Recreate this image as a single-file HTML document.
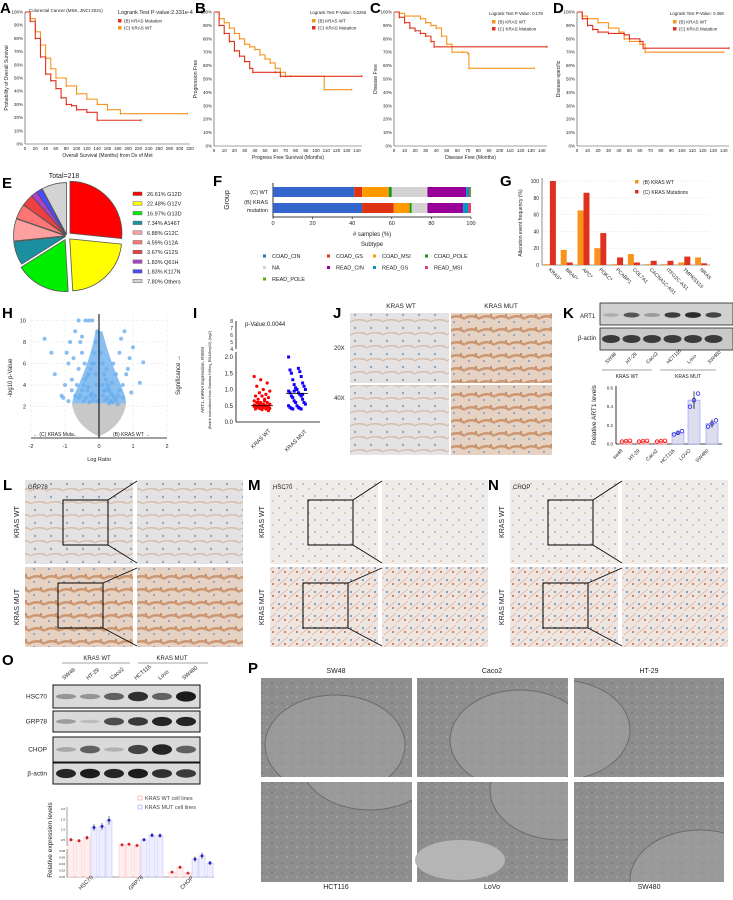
<!DOCTYPE html>
<html><head><meta charset="utf-8">
<style>
html,body{margin:0;padding:0;background:#fff;}
svg{display:block;font-family:"Liberation Sans",Arial,sans-serif;}
</style></head>
<body>
<svg id="fig" width="733" height="900" viewBox="0 0 733 900" xmlns="http://www.w3.org/2000/svg">
<defs>
<pattern id="ihcWT" width="16" height="13" patternUnits="userSpaceOnUse"><rect width="16" height="13" fill="#e4e2e2"/><circle cx="3" cy="3" r="1.2" fill="#8fa9c9"/><circle cx="11" cy="8" r="1" fill="#9bb2cf"/><path d="M0 9 Q8 6 16 10" stroke="#d8c0ae" stroke-width="1.5" fill="none"/></pattern>
<pattern id="ihcMUT" width="15" height="13" patternUnits="userSpaceOnUse"><rect width="15" height="13" fill="#e5d2c3"/><path d="M0 6 Q7 2 15 7" stroke="#cb9670" stroke-width="2.5" fill="none"/><circle cx="4" cy="10" r="1.1" fill="#8fa2c2"/><circle cx="11" cy="3" r="1" fill="#b97f5a"/></pattern>
<pattern id="ihcPale" width="12" height="12" patternUnits="userSpaceOnUse"><rect width="12" height="12" fill="#f0ece9"/><circle cx="3" cy="4" r="0.9" fill="#8aa6cc"/><circle cx="9" cy="9" r="0.8" fill="#c9a08a"/></pattern>
<pattern id="ihcMixed" width="12" height="12" patternUnits="userSpaceOnUse"><rect width="12" height="12" fill="#efe6e2"/><circle cx="3" cy="4" r="1.1" fill="#6a9cc8"/><circle cx="9" cy="8" r="1.1" fill="#c87a52"/><path d="M0 11 L12 1" stroke="#deb09a" stroke-width="0.8"/></pattern>
<pattern id="em" width="10" height="10" patternUnits="userSpaceOnUse"><rect width="10" height="10" fill="#8e8e8e"/><circle cx="2" cy="3" r="1" fill="#7c7c7c"/><circle cx="7" cy="7" r="1.2" fill="#a0a0a0"/></pattern>
<clipPath id="clipP0"><rect x="261" y="678" width="151" height="99"/></clipPath>
<clipPath id="clipP1"><rect x="417" y="678" width="151" height="99"/></clipPath>
<clipPath id="clipP2"><rect x="574" y="678" width="150" height="99"/></clipPath>
<clipPath id="clipP3"><rect x="261" y="782" width="151" height="100"/></clipPath>
<clipPath id="clipP4"><rect x="417" y="782" width="151" height="100"/></clipPath>
<clipPath id="clipP5"><rect x="574" y="782" width="150" height="100"/></clipPath>
</defs>
</svg>
<script>
// ---------------- DATA ----------------
const aMutT=[0,10,20,30,40,50,60,70,80,90,100,120,140,225];
const aMutS=[1,.93,.80,.66,.53,.48,.42,.35,.30,.29,.26,.24,.18,.18];
const aWtT=[0,10,20,30,40,50,60,80,100,120,140,160,185,315];
const aWtS=[1,.95,.85,.75,.65,.57,.50,.44,.38,.34,.30,.26,.23,.23];
const bWtT=[0,5,10,15,20,25,30,35,40,45,50,55,60,65,70,75,108,135];
const bWtS=[1,.95,.92,.88,.84,.80,.76,.74,.72,.68,.65,.62,.58,.55,.52,.52,.42,.42];
const bMutT=[0,5,10,15,20,25,30,35,38,60,65,145];
const bMutS=[1,.90,.84,.78,.71,.67,.63,.58,.55,.55,.52,.52];
const cWtT=[0,5,10,25,30,35,40,45,50,55,65,70,71,133];
const cWtS=[1,.99,.97,.95,.92,.90,.88,.82,.76,.70,.70,.69,.58,.58];
const cMutT=[0,5,10,15,20,25,30,35,38,145];
const cMutS=[1,.96,.92,.88,.86,.84,.82,.78,.74,.74];
const dWtT=[0,5,10,20,30,40,45,50,60,65,140];
const dWtS=[1,.97,.95,.92,.88,.85,.80,.78,.76,.70,.70];
const dMutT=[0,5,10,15,20,30,45,50,60,63,145];
const dMutS=[1,.95,.90,.87,.85,.84,.83,.80,.78,.73,.73];
const pieLabels=["G12D","G12V","G13D","A146T","G12C","G12A","G12S","Q61H","K117N","Others"];
const pieValues=[26.61,22.48,16.97,7.34,6.88,4.59,3.67,1.83,1.83,7.80];
const fCats=["COAD_CIN","COAD_GS","COAD_MSI","COAD_POLE","NA","READ_CIN","READ_GS","READ_MSI","READ_POLE"];
const fWt=[41,4,13.5,1.5,18,19.5,1.5,0.5,0.5];
const fMut=[45,16,8,1,8,18,2.5,1.5,0];
const gCats=["KRAS*","BRAF*","APC*","PI3KC*","PCABP1","COL7A1","CACNA1C-AS1","ITFG2C-AS1","TMPRSS15","NRAS"];
const gWt=[1,18,65,20,1,13,1,1,3,9];
const gMut=[100,3,86,38,9,3,5,5,10,2];
const volLX=[-0.05,-0.1,-0.15,-0.2,-0.25,-0.3,-0.35,-0.4,-0.45,-0.5,-0.55,-0.6,-0.7,-0.8,-0.9,-1.0,-1.1,-1.3,-1.4,-1.6,-0.08,-0.12,-0.18,-0.22,-0.28,-0.32,-0.38,-0.42,-0.5,-0.6,-0.65,-0.75,-0.85,-0.95,-1.05,-0.3,-0.4,-0.5,-0.2,-0.15,-0.9,-0.8,-0.7,-0.6,-0.55,-0.25,-0.35,-0.45,-0.1,-0.05];
const volLY=[9,8,7,6,5.5,5,4.8,4.5,4,3.5,3,2.8,3,3.5,2.5,4,3,5,7,8.3,4,3,2.6,3.2,2.4,3.8,2.8,6,7,5.5,4,6.5,8,7,2.8,10,10,8.5,10,6,6,4.5,9,10,8,3,3.5,2.5,5,2.5];
const volRX=[0.05,0.1,0.15,0.2,0.25,0.3,0.35,0.4,0.45,0.5,0.55,0.6,0.7,0.8,0.9,1.0,1.2,1.3,0.12,0.18,0.22,0.28,0.32,0.38,0.42,0.5,0.6,0.65,0.75,0.85,0.3,0.4,0.55,0.2,0.7,0.95,0.1,0.15,0.25,0.35];
const volRY=[7,6,5,4.5,4,3.5,3.2,3,2.8,2.6,3,3.5,4,5,6.5,7.5,4.2,6.1,3,2.6,5.5,3.8,2.5,4.2,6,5,7,8.3,9,5.5,2.3,2.4,2.2,3.5,2.8,3.3,4,3.5,2.8,2.5];
const iWt=[1.4,1.3,1.2,1.1,1.0,0.95,0.9,0.85,0.8,0.8,0.75,0.7,0.7,0.65,0.6,0.6,0.6,0.55,0.55,0.55,0.5,0.5,0.5,0.5,0.5,0.5,0.48,0.48,0.45,0.45,0.45,0.42,0.42,0.4,0.4,0.38,0.35,0.6,0.65,0.52];
const iMut=[2.0,1.65,1.6,1.55,1.5,1.4,1.3,1.2,1.15,1.1,1.05,1.0,1.0,0.95,0.9,0.9,0.85,0.8,0.8,0.75,0.7,0.65,0.6,0.6,0.55,0.5,0.5,0.45,0.45,0.42,0.42,0.4,0.4,0.85,0.95];
const kLines=["sw48","HT-29","Caco2","HCT116","LOVO","SW480"];
const kMeans=[0.03,0.03,0.03,0.12,0.47,0.22];
const oGroups=["HSC70","GRP78","CHOP"];
const oWt=[[0.5,0.45,0.6],[0.25,0.28,0.22],[0.015,0.03,0.012]];
const oMut=[[1.1,1.15,1.45],[0.5,0.72,0.7],[0.055,0.065,0.043]];

// ---------------- HELPERS ----------------
const NS="http://www.w3.org/2000/svg";
const svg=document.getElementById('fig');
function mk(tag,attrs,name,parent,inter){
  const el=document.createElementNS(NS,tag);
  for(const k in attrs) el.setAttribute(k,attrs[k]);
  
  
  (parent||svg).appendChild(el);
  return el;
}
function txt(x,y,s,size,name,opt){
  opt=opt||{};
  const a={x:x,y:y,'font-size':size,fill:opt.fill||'#222'};
  if(opt.anchor) a['text-anchor']=opt.anchor;
  if(opt.weight) a['font-weight']=opt.weight;
  if(opt.rot!==undefined) a.transform='rotate('+opt.rot+' '+x+' '+y+')';
  const t=mk('text',a,name);
  t.textContent=s;return t;
}
function panelLetter(x,y,l){txt(x,y,l,15,'panel-label-'+l.toLowerCase(),{weight:'bold',fill:'#000'});}

// ---------------- SURVIVAL ----------------
function survival(id,x0,x1,xmax,y0,y1,series,ylab,xlab,legend,pval,xticks){
  const X=t=>x0+(x1-x0)*t/xmax, Y=s=>y1-(y1-y0)*s;
  mk('line',{x1:x0,y1:y0,x2:x0,y2:y1,stroke:'#444','stroke-width':0.6},id+'-y-axis');
  mk('line',{x1:x0,y1:y1,x2:x1,y2:y1,stroke:'#444','stroke-width':0.6},id+'-x-axis');
  for(let p=0;p<=100;p+=10){txt(x0-2,Y(p/100)+1.5,p+'%',4.5,id+'-y-tick',{anchor:'end'});}
  for(let v=0;v<=xmax;v+=xticks){txt(X(v),y1+6,String(v),4.5,id+'-x-tick',{anchor:'middle'});}
  series.forEach(se=>{
    let d='M'+X(se.t[0])+' '+Y(se.s[0]);
    for(let i=1;i<se.t.length;i++) d+=' H'+X(se.t[i])+' V'+Y(se.s[i]);
    mk('path',{d:d,fill:'none',stroke:se.c,'stroke-width':1.1},id+'-curve-'+se.n);
    for(let i=1;i<se.t.length;i++){mk('line',{x1:X(se.t[i]),y1:Y(se.s[i])-1.2,x2:X(se.t[i]),y2:Y(se.s[i])+1.2,stroke:se.c,'stroke-width':0.8},id+'-censor-mark');}
  });
  txt(x0-17,(y0+y1)/2,ylab,5,id+'-y-axis-title',{anchor:'middle',rot:-90});
  txt((x0+x1)/2,y1+13,xlab,5,id+'-x-axis-title',{anchor:'middle'});
  txt(pval.x,pval.y,pval.s,pval.size,id+'-logrank-pvalue');
  legend.forEach((l,i)=>{
    mk('rect',{x:pval.lx,y:pval.y+5+i*7,width:3.5,height:3.5,fill:l.c},id+'-legend-swatch');
    txt(pval.lx+6,pval.y+8.5+i*7,l.s,4.5,id+'-legend-entry');
  });
}
const OR='#f7941d', RD='#e0301e';
panelLetter(0,13,'A');
txt(29,12,'Colorectal Cancer (MSK, JNCI 2021)',4.5,'a-dataset-title');
survival('a',25,190,320,12,144,[{t:aWtT,s:aWtS,c:OR,n:'wt'},{t:aMutT,s:aMutS,c:RD,n:'mut'}],'Probability of Overall Survival','Overall Survival (Months) from Dx of Met',[{s:'(B) KRAS Mutation',c:RD},{s:'(C) KRAS WT',c:OR}],{x:118,y:14,s:'Logrank Test P-value:2.331e-4',size:5.5,lx:118},20);
panelLetter(195,13,'B');
survival('b',214,362,145,12,146,[{t:bWtT,s:bWtS,c:OR,n:'wt'},{t:bMutT,s:bMutS,c:RD,n:'mut'}],'Progression Free','Progress Free Survival (Months)',[{s:'(B) KRAS WT',c:OR},{s:'(C) KRAS Mutation',c:RD}],{x:310,y:14,s:'Logrank Test P-Value: 0.0255',size:4.3,lx:312},10);
panelLetter(370,13,'C');
survival('c',394,547,145,12,146,[{t:cWtT,s:cWtS,c:OR,n:'wt'},{t:cMutT,s:cMutS,c:RD,n:'mut'}],'Disease Free','Disease Free (Months)',[{s:'(B) KRAS WT',c:OR},{s:'(C) KRAS Mutation',c:RD}],{x:489,y:15,s:'Logrank Test P-Value: 0.178',size:4.3,lx:492},10);
panelLetter(553,13,'D');
survival('d',577,729,145,12,146,[{t:dWtT,s:dWtS,c:OR,n:'wt'},{t:dMutT,s:dMutS,c:RD,n:'mut'}],'Disease-specific','',[{s:'(B) KRAS WT',c:OR},{s:'(C) KRAS Mutation',c:RD}],{x:670,y:15,s:'Logrank Test P-Value: 0.368',size:4.3,lx:673},10);

// ---------------- E PIE ----------------
panelLetter(2,188,'E');
txt(64,178,'Total=218',7,'e-total-label',{anchor:'middle'});
const pieCols=['#ff0000','#ffff00','#00ee00','#1a8fa0','#ffa0a0','#ff7575','#ee4040','#b040d0','#4a4aff','#d3d3d3'];
(function(){
  const cx=67,cy=236,r=52;const tot=pieValues.reduce((a,b)=>a+b,0);let a0=-Math.PI/2;
  pieValues.forEach((v,i)=>{
    const a1=a0+2*Math.PI*v/tot, am=(a0+a1)/2, off=(i<3?4:1.5);
    const ox=cx+off*Math.cos(am), oy=cy+off*Math.sin(am);
    const large=(a1-a0)>Math.PI?1:0;
    const d='M'+ox+' '+oy+' L'+(ox+r*Math.cos(a0))+' '+(oy+r*Math.sin(a0))+' A'+r+' '+r+' 0 '+large+' 1 '+(ox+r*Math.cos(a1))+' '+(oy+r*Math.sin(a1))+' Z';
    mk('path',{d:d,fill:pieCols[i],stroke:'#555','stroke-width':0.8},'pie-slice-'+pieLabels[i].toLowerCase());
    a0=a1;
  });
  pieValues.forEach((v,i)=>{
    const y=196+i*9.7;
    mk('rect',{x:133,y:y-4,width:9,height:3.5,fill:pieCols[i],stroke:'#666','stroke-width':0.5},'pie-legend-swatch');
    txt(147,y,v.toFixed(2)+'%  '+pieLabels[i],5.5,'pie-legend-entry');
  });
})();

// ---------------- F STACKED BARS ----------------
panelLetter(213,186,'F');
const fCols=['#3366cc','#dd3311','#ff9900','#109618','#d3d3d3','#990099','#0099c6','#dd4477','#66aa00'];
(function(){
  const X=v=>273+198*v/100;
  mk('line',{x1:273,y1:183,x2:273,y2:217,stroke:'#000','stroke-width':0.8},'f-y-axis');
  mk('line',{x1:273,y1:217,x2:471,y2:217,stroke:'#000','stroke-width':0.8},'f-x-axis');
  [0,20,40,60,80,100].forEach(v=>{mk('line',{x1:X(v),y1:217,x2:X(v),y2:219,stroke:'#000','stroke-width':0.6},'f-x-tick');txt(X(v),225,String(v),5.5,'f-x-tick-label',{anchor:'middle'});});
  [[fWt,187,'wt'],[fMut,203,'mut']].forEach(([arr,y,n])=>{let acc=0;arr.forEach((v,i)=>{if(v>0)mk('rect',{x:X(acc),y:y,width:198*v/100,height:10,fill:fCols[i]},'f-bar-'+n+'-'+fCats[i].toLowerCase());acc+=v;});});
  txt(268,194,'(C) WT',5.5,'f-category-wt',{anchor:'end'});
  txt(268,204,'(B) KRAS',5.5,'f-category-mut',{anchor:'end'});
  txt(268,212,'mutation',5.5,'f-category-mut-2',{anchor:'end'});
  txt(229,200,'Group',7,'f-y-axis-title',{anchor:'middle',rot:-90});
  txt(372,236,'# samples (%)',6,'f-x-axis-title',{anchor:'middle'});
  txt(372,246,'Subtype',6,'f-legend-title',{anchor:'middle'});
  const cols=[263,327,373,425];
  fCats.forEach((c,i)=>{const col=i%4,row=Math.floor(i/4);const x=cols[col],y=258+row*11.5;
    mk('rect',{x:x,y:y-3.5,width:3,height:3,fill:fCols[i]},'f-legend-swatch');
    txt(x+9,y,c,5.5,'f-legend-entry');});
})();

// ---------------- G GROUPED BARS ----------------
panelLetter(500,186,'G');
(function(){
  const x0=542,x1=710,y0=265,y100=181;const Y=v=>y0-(y0-y100)*v/100;const bw=(x1-x0)/gCats.length;
  [0,20,40,60,80,100].forEach(v=>{mk('line',{x1:x0,y1:Y(v),x2:x1,y2:Y(v),stroke:'#e6e6e6','stroke-width':0.5,'stroke-dasharray':'2 1'},'g-gridline');txt(x0-3,Y(v)+2,String(v),5,'g-y-tick-label',{anchor:'end'});});
  mk('line',{x1:x0,y1:y100-3,x2:x0,y2:y0,stroke:'#444','stroke-width':0.6},'g-y-axis');
  mk('line',{x1:x0,y1:y0,x2:x1,y2:y0,stroke:'#444','stroke-width':0.6},'g-x-axis');
  gCats.forEach((c,i)=>{const cx=x0+bw*(i+0.5);
    mk('rect',{x:cx-6.5,y:Y(gWt[i]),width:6,height:y0-Y(gWt[i]),fill:OR},'g-bar-wt-'+c.toLowerCase());
    mk('rect',{x:cx-0.5,y:Y(gMut[i]),width:6,height:y0-Y(gMut[i]),fill:RD},'g-bar-mut-'+c.toLowerCase());
    txt(cx-2,y0+5,c,5,'g-x-tick-label',{rot:45});
  });
  txt(522,223,'Alteration event frequency (%)',5,'g-y-axis-title',{anchor:'middle',rot:-90});
  mk('rect',{x:635,y:180,width:3.5,height:3.5,fill:OR},'g-legend-swatch-wt');txt(643,184,'(B) KRAS WT',5,'g-legend-entry-wt');
  mk('rect',{x:635,y:190,width:3.5,height:3.5,fill:RD},'g-legend-swatch-mut');txt(643,194,'(C) KRAS Mutations',5,'g-legend-entry-mut');
})();

// ---------------- H VOLCANO ----------------
panelLetter(2,318,'H');
(function(){
  const X=v=>99+34*v, Y=v=>428-10.75*v;
  [-2,-1,0,1,2].forEach(v=>{mk('line',{x1:X(v),y1:314,x2:X(v),y2:438,stroke:'#e3e3e3','stroke-width':0.5,'stroke-dasharray':'3 2'},'h-v-gridline');txt(X(v),448,String(v),5.5,'h-x-tick-label',{anchor:'middle'});});
  [2,4,6,8,10].forEach(v=>{mk('line',{x1:31,y1:Y(v),x2:167,y2:Y(v),stroke:'#e3e3e3','stroke-width':0.5,'stroke-dasharray':'3 2'},'h-h-gridline');txt(26,Y(v)+2,String(v),5.5,'h-y-tick-label',{anchor:'end'});});
  mk('path',{d:'M'+X(-0.1)+' '+Y(9)+' C'+X(-0.4)+' '+Y(4)+' '+X(-1.0)+' '+Y(2.6)+' '+X(-0.7)+' '+Y(1.8)+' L'+X(0.7)+' '+Y(1.8)+' C'+X(1.0)+' '+Y(2.6)+' '+X(0.5)+' '+Y(4)+' '+X(0.1)+' '+Y(9)+' Z',fill:'#74b4ee',opacity:0.85},'h-significant-density');
  mk('path',{d:'M'+X(-0.8)+' '+Y(2.3)+' Q'+X(-0.7)+' '+Y(0.2)+' '+X(0)+' '+Y(-0.8)+' Q'+X(0.7)+' '+Y(0.2)+' '+X(0.8)+' '+Y(2.3)+' Z',fill:'#c8c8c8'},'h-nonsignificant-points');
  volLX.forEach((v,i)=>{mk('circle',{cx:X(v),cy:Y(volLY[i]),r:2,fill:'#6aaeee',opacity:0.8},'h-point-left');});
  volRX.forEach((v,i)=>{mk('circle',{cx:X(v),cy:Y(volRY[i]),r:2,fill:'#6aaeee',opacity:0.8},'h-point-right');});
  mk('line',{x1:X(0),y1:314,x2:X(0),y2:438,stroke:'#000','stroke-width':1},'h-zero-line');
  mk('line',{x1:31,y1:438,x2:167,y2:438,stroke:'#000','stroke-width':0.8},'h-x-axis');
  txt(33,436,'\u2190 (C) KRAS Muta..',5,'h-left-group-label');
  txt(113,436,'(B) KRAS WT \u2192',5,'h-right-group-label');
  txt(99,461,'Log Ratio',5.5,'h-x-axis-title',{anchor:'middle'});
  txt(12,378,'-log10 p-Value',6,'h-y-axis-title',{anchor:'middle',rot:-90});
  txt(180,375,'Significance \u2192',6,'h-significance-label',{anchor:'middle',rot:-90});
})();

// ---------------- I SCATTER ----------------
panelLetter(193,318,'I');
(function(){
  const Y=v=>v<=2?422-32.5*v:349-(v-4)*7;
  mk('line',{x1:236,y1:352,x2:236,y2:422,stroke:'#000','stroke-width':0.8},'i-y-axis-lower');
  mk('line',{x1:236,y1:321,x2:236,y2:349,stroke:'#000','stroke-width':0.8},'i-y-axis-upper');
  mk('line',{x1:236,y1:422,x2:320,y2:422,stroke:'#000','stroke-width':0.8},'i-x-axis');
  [0,0.5,1.0,1.5,2.0].forEach(v=>txt(233,Y(v)+2,v.toFixed(1),6,'i-y-tick-label',{anchor:'end'}));
  [4,5,6,7,8].forEach(v=>txt(233,Y(v)+2,String(v),5,'i-y-tick-label-upper',{anchor:'end'}));
  txt(245,326,'p-Value:0.0044',6,'i-pvalue');
  iWt.forEach((v,i)=>{mk('circle',{cx:262+((i*5)%13-6)*1.3,cy:Y(v),r:1.6,fill:'#f00'},'i-point-wt');});
  iMut.forEach((v,i)=>{mk('rect',{x:297+((i*7)%13-6)*1.4-1.5,y:Y(v)-1.5,width:3,height:3,fill:'#10f'},'i-point-mut');});
  mk('line',{x1:251,y1:Y(0.5),x2:273,y2:Y(0.5),stroke:'#000','stroke-width':0.8},'i-median-wt');
  mk('line',{x1:286,y1:Y(0.88),x2:308,y2:Y(0.88),stroke:'#000','stroke-width':0.8},'i-median-mut');
  txt(262,440,'KRAS WT',5.5,'i-x-label-wt',{anchor:'middle',rot:-45});
  txt(297,442,'KRAS MUT',5.5,'i-x-label-mut',{anchor:'middle',rot:-45});
  txt(204,380,'ART1, mRNA Expression, RSEM',4.5,'i-y-axis-title',{anchor:'middle',rot:-90});
  txt(211,380,'(Batch normalized from Illumina HiSeq_RNASeqV2) (log2)',3.8,'i-y-axis-subtitle',{anchor:'middle',rot:-90});
})();

// ---------------- J HISTOLOGY ----------------
panelLetter(333,318,'J');
txt(401,308,'KRAS WT',6.5,'j-col-label-wt',{anchor:'middle'});
txt(501,308,'KRAS MUT',6.5,'j-col-label-mut',{anchor:'middle'});
txt(334,350,'20X',6,'j-row-label-20x');txt(334,400,'40X',6,'j-row-label-40x');
mk('rect',{x:350,y:313,width:99,height:70,fill:'url(#ihcWT)'},'j-image-wt-20x');
mk('rect',{x:451,y:313,width:101,height:70,fill:'url(#ihcMUT)'},'j-image-mut-20x');
mk('rect',{x:350,y:385,width:99,height:70,fill:'url(#ihcWT)'},'j-image-wt-40x');
mk('rect',{x:451,y:385,width:101,height:70,fill:'url(#ihcMUT)'},'j-image-mut-40x');

// ---------------- K BLOT + BARS ----------------
panelLetter(563,318,'K');
txt(580,318,'ART1',6,'k-blot-label-art1');
txt(578,340,'\u03b2-actin',6,'k-blot-label-actin');
mk('rect',{x:600,y:303,width:133,height:22,fill:'#d0d0d0',stroke:'#222','stroke-width':0.8},'k-blot-art1');
mk('rect',{x:600,y:328,width:133,height:22,fill:'#c9c9c9',stroke:'#222','stroke-width':0.8},'k-blot-actin');
const kArtI=[0.2,0.7,0.3,0.85,0.95,0.8];
kLines.forEach((l,i)=>{const cx=611+i*20.5;
  mk('ellipse',{cx:cx,cy:315,rx:8,ry:1.5+1.5*kArtI[i],fill:'#222',opacity:kArtI[i]},'k-band-art1');
  mk('ellipse',{cx:cx,cy:339,rx:9,ry:4,fill:'#222',opacity:0.85},'k-band-actin');
  txt(cx-4,364,['SW48','HT-29','Caco2','HCT116','Lovo','SW480'][i],5,'k-lane-label',{rot:-45});
});
mk('line',{x1:602,y1:370,x2:652,y2:370,stroke:'#888','stroke-width':0.8},'k-group-line-wt');
mk('line',{x1:660,y1:370,x2:716,y2:370,stroke:'#888','stroke-width':0.8},'k-group-line-mut');
txt(627,378,'KRAS WT',5,'k-group-label-wt',{anchor:'middle'});txt(688,378,'KRAS MUT',5,'k-group-label-mut',{anchor:'middle'});
(function(){
  const Y=v=>444-56*v/0.6; const xs=[626,643,661,678,694,712];
  mk('line',{x1:616,y1:386,x2:616,y2:444,stroke:'#000','stroke-width':0.8},'k-y-axis');
  mk('line',{x1:616,y1:444,x2:722,y2:444,stroke:'#000','stroke-width':0.8},'k-x-axis');
  [0,0.2,0.4,0.6].forEach(v=>txt(613,Y(v)+1.5,v.toFixed(1),4.5,'k-y-tick-label',{anchor:'end'}));
  kMeans.forEach((v,i)=>{const c=i<3?'#f00':'#22f';
    mk('rect',{x:xs[i]-6,y:Y(v),width:12,height:444-Y(v),fill:i<3?'#fdd':'#dde',stroke:i<3?'#f99':'#99f','stroke-width':0.6},'k-bar-'+kLines[i].toLowerCase());
    [-4,0,4].forEach((d,j)=>mk('circle',{cx:xs[i]+d,cy:Y(v*(0.85+0.15*j)),r:1.8,fill:'none',stroke:c,'stroke-width':0.8},'k-point'));
    mk('line',{x1:xs[i],y1:Y(v*1.2),x2:xs[i],y2:Y(v*0.8),stroke:'#000','stroke-width':0.7},'k-error-bar');
    txt(xs[i]-3,451,kLines[i],5,'k-x-tick-label',{rot:-45,anchor:'end'});
  });
  txt(596,415,'Relative ART1 levels',6.5,'k-y-axis-title',{anchor:'middle',rot:-90});
})();

// ---------------- L M N ----------------
function ihcPanel(letter,x,label,wtFill,mutFill){
  panelLetter(x-22,490,letter);
  const L=letter.toLowerCase();
  mk('rect',{x:x,y:480,width:108,height:84,fill:wtFill},L+'-image-wt-overview');
  mk('rect',{x:x+112,y:480,width:106,height:84,fill:wtFill},L+'-image-wt-zoom');
  mk('rect',{x:x,y:567,width:108,height:80,fill:mutFill},L+'-image-mut-overview');
  mk('rect',{x:x+112,y:567,width:106,height:80,fill:mutFill},L+'-image-mut-zoom');
  mk('rect',{x:x+38,y:500,width:45,height:45,fill:'none',stroke:'#000','stroke-width':1},L+'-inset-box-wt');
  mk('rect',{x:x+33,y:583,width:45,height:45,fill:'none',stroke:'#000','stroke-width':1},L+'-inset-box-mut');
  mk('line',{x1:x+83,y1:500,x2:x+112,y2:481,stroke:'#000','stroke-width':0.8},L+'-zoom-line');
  mk('line',{x1:x+83,y1:545,x2:x+112,y2:563,stroke:'#000','stroke-width':0.8},L+'-zoom-line');
  mk('line',{x1:x+78,y1:583,x2:x+112,y2:568,stroke:'#000','stroke-width':0.8},L+'-zoom-line');
  mk('line',{x1:x+78,y1:628,x2:x+112,y2:646,stroke:'#000','stroke-width':0.8},L+'-zoom-line');
  txt(x+3,489,label,6,L+'-stain-label');
  txt(x-6,522,'KRAS WT',7,L+'-row-label-wt',{anchor:'middle',rot:-90});
  txt(x-6,607,'KRAS MUT',7,L+'-row-label-mut',{anchor:'middle',rot:-90});
}
ihcPanel('L',25,'GRP78','url(#ihcWT)','url(#ihcMUT)');
ihcPanel('M',270,'HSC70','url(#ihcPale)','url(#ihcMixed)');
ihcPanel('N',510,'CHOP','url(#ihcPale)','url(#ihcMixed)');

// ---------------- O BLOTS + BAR ----------------
panelLetter(2,665,'O');
mk('line',{x1:62,y1:663,x2:130,y2:663,stroke:'#888','stroke-width':0.8},'o-group-line-wt');
mk('line',{x1:138,y1:663,x2:208,y2:663,stroke:'#888','stroke-width':0.8},'o-group-line-mut');
txt(97,660,'KRAS WT',6,'o-group-label-wt',{anchor:'middle'});txt(172,660,'KRAS MUT',6,'o-group-label-mut',{anchor:'middle'});
const oLanes=['SW48','HT-29','Caco2','HCT116','Lovo','SW480'];
const oBlots=[['HSC70',685,23,[0.35,0.35,0.6,0.85,0.6,0.95]],['GRP78',711,21,[0.3,0.15,0.7,0.8,0.9,0.9]],['CHOP',737,25,[0.25,0.6,0.2,0.75,0.9,0.6]],['\u03b2-actin',763,21,[0.9,0.95,0.9,0.95,0.85,0.8]]];
oBlots.forEach(([n,y,h,ints])=>{
  mk('rect',{x:53,y:y,width:147,height:h,fill:'#dadada',stroke:'#111','stroke-width':1},'o-blot-'+n.replace('\u03b2','beta'));
  txt(47,y+h/2+2,n,6.5,'o-blot-label',{anchor:'end'});
  ints.forEach((v,i)=>mk('ellipse',{cx:66+i*24,cy:y+h/2,rx:10,ry:1.2+h*0.18*v,fill:'#111',opacity:v},'o-band'));
});
oLanes.forEach((l,i)=>txt(64+i*24,680,l,5.5,'o-lane-label',{rot:-40}));
(function(){
  const Yu=v=>850-(850-809)*v/2.0, Yl=v=>877-26*v/0.08;
  const xs=[[71,79,87,94,102,109],[122,129,137,144,152,160],[172,180,188,195,202,210]];
  mk('line',{x1:67,y1:807,x2:67,y2:846,stroke:'#444','stroke-width':0.5},'o-y-axis-upper');
  mk('line',{x1:67,y1:849,x2:67,y2:877,stroke:'#444','stroke-width':0.5},'o-y-axis-lower');
  mk('line',{x1:67,y1:877,x2:214,y2:877,stroke:'#444','stroke-width':0.5},'o-x-axis');
  [0.5,1.0,1.5,2.0].forEach(v=>txt(65,Yu(v)+1,v.toFixed(1),3,'o-y-tick-upper',{anchor:'end'}));
  [0,0.02,0.04,0.06,0.08].forEach(v=>txt(65,Yl(v)+1,v.toFixed(2),3,'o-y-tick-lower',{anchor:'end'}));
  oGroups.forEach((g,gi)=>{
    const Y=gi<2?Yu:Yl;
    [oWt[gi],oMut[gi]].forEach((arr,si)=>arr.forEach((v,k)=>{
      const x=xs[gi][si*3+k];const c=si?'#33f':'#f33';
      mk('rect',{x:x-3,y:Y(v),width:6,height:877-Y(v),fill:si?'#eef':'#fee',stroke:si?'#bbf':'#fbb','stroke-width':0.5},'o-bar-'+g.toLowerCase());
      mk('circle',{cx:x,cy:Y(v),r:1.5,fill:c},'o-point');
      mk('line',{x1:x,y1:Y(v*1.15),x2:x,y2:Y(v*0.85),stroke:'#000','stroke-width':0.5},'o-error-bar');
    }));
    txt(xs[gi][2],884,g,5.5,'o-x-tick-label',{rot:-45,anchor:'middle'});
  });
  mk('rect',{x:138,y:796,width:4,height:4,fill:'none',stroke:'#f99','stroke-width':0.6},'o-legend-swatch-wt');
  txt(145,800,'KRAS WT cell lines',5.5,'o-legend-entry-wt',{fill:'#444'});
  mk('rect',{x:138,y:805,width:4,height:4,fill:'none',stroke:'#99f','stroke-width':0.6},'o-legend-swatch-mut');
  txt(145,809,'KRAS MUT cell lines',5.5,'o-legend-entry-mut',{fill:'#444'});
  txt(52,840,'Relative expression levels',6.5,'o-y-axis-title',{anchor:'middle',rot:-90});
})();

// ---------------- P EM ----------------
panelLetter(248,673,'P');
const pNames=[['SW48','Caco2','HT-29'],['HCT116','LoVo','SW480']];
const pX=[261,417,574];
const pNuc=[[[335,745],[520,740],[560,730]],[[370,760],[560,790],[700,880]]];
pNames.forEach((row,r)=>row.forEach((n,c)=>{
  const y=r?782:678;
  const g=mk('g',{'clip-path':'url(#clipP'+(r*3+c)+')'},'p-em-panel-'+n.toLowerCase());
  mk('rect',{x:pX[c],y:y,width:151,height:100,fill:'url(#em)'},'p-em-image-'+n.toLowerCase(),g);
  mk('ellipse',{cx:pNuc[r][c][0],cy:pNuc[r][c][1],rx:70,ry:50,fill:'#a2a2a2',opacity:0.6,stroke:'#555','stroke-width':1},'p-nucleus',g);
  txt(pX[c]+75,r?889:673,n,7,'p-title-'+n.toLowerCase(),{anchor:'middle'});
}));
mk('ellipse',{cx:460,cy:860,rx:45,ry:20,fill:'#b5b5b5'},'p-lumen-lovo');
</script>
</body></html>
